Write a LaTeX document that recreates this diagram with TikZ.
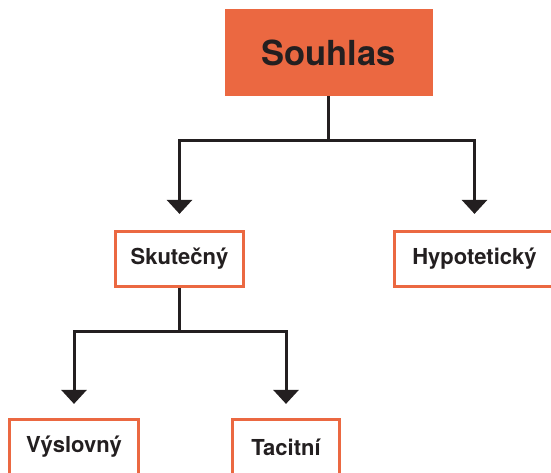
\documentclass[tikz,border=0pt]{standalone}
\usepackage{fontspec}
\setmainfont{TeX Gyre Heros}
\usetikzlibrary{arrows.meta}
\definecolor{orng}{HTML}{EB6841}
\definecolor{ink}{HTML}{231F20}
\tikzset{
  box/.style={draw=orng, line width=3.2pt, fill=white, inner sep=0pt, text=ink,
              font=\fontsize{22}{25}\selectfont\bfseries},
  topbox/.style={fill=orng, inner sep=0pt, text=ink,
              font=\fontsize{34.5}{40}\selectfont\bfseries},
  conn/.style={draw=ink, line width=3pt, -{Triangle[width=25pt,length=14pt]}}
}
\begin{document}
\begin{tikzpicture}[x=1pt,y=-1pt]
\useasboundingbox (0,0) rectangle (551,472);
\clip (0,0) rectangle (551,472);
\node[topbox, minimum width=208pt, minimum height=87pt] (top) at (328.5,52.5) {Souhlas};
\node[box, minimum width=128pt, minimum height=55pt] (sk) at (179.5,259) {Skutečný};
\node[box, minimum width=160pt, minimum height=55pt] (hy) at (474.5,259) {Hypotetický};
\node[box, minimum width=129pt, minimum height=55pt] (vy) at (74,447) {Výslovný};
\node[box, minimum width=107pt, minimum height=55pt] (ta) at (286,447) {Tacitní};
\draw[conn, shorten >=16pt] (top.south) -- ++(0,44) -| (sk.north);
\draw[conn, shorten >=16pt] (top.south) -- ++(0,44) -| (hy.north);
\draw[conn, shorten >=14pt] (sk.south) -- ++(0,43) -| (vy.north);
\draw[conn, shorten >=14pt] (sk.south) -- ++(0,43) -| (ta.north);
\end{tikzpicture}
\end{document}
